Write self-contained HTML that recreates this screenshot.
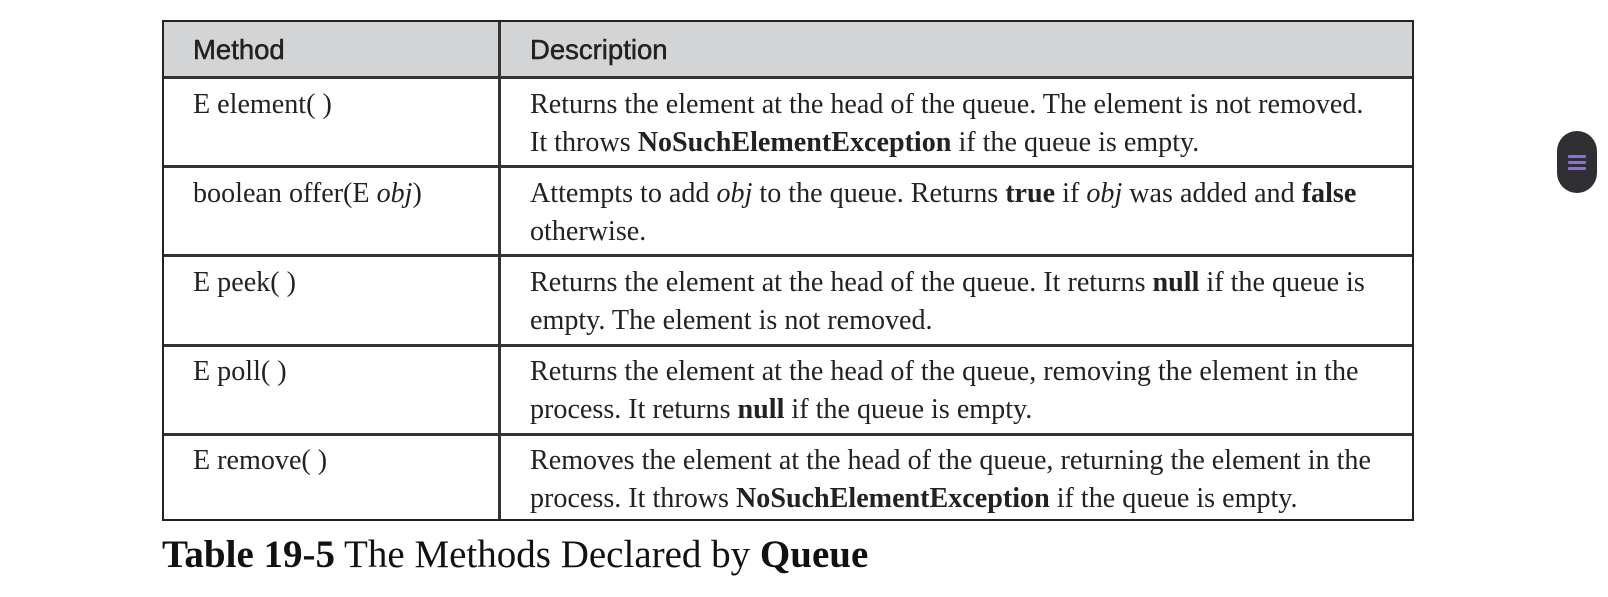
<!DOCTYPE html>
<html><head><meta charset="utf-8"><style>
html,body{margin:0;padding:0;width:1608px;height:597px;background:#fff;overflow:hidden;position:relative}
.t{position:absolute;left:162px;top:20px;width:1252px;height:501px;border:2px solid #222;box-sizing:border-box}
.hd{position:absolute;left:0;top:0;width:100%;height:55px;background:#d3d4d6}
.h{position:absolute;left:0;width:100%;height:3px;background:#333}
.v{position:absolute;left:334px;top:0;width:3px;height:100%;background:#333}
.c{position:absolute;font-family:"Liberation Serif",serif;font-size:28.1px;color:#222;line-height:38px;white-space:nowrap}
.hs{position:absolute;font-family:"Liberation Sans",sans-serif;font-size:27.5px;color:#222;top:12px;-webkit-text-stroke:0.5px #222}
.cap{position:absolute;left:162px;top:532px;font-family:"Liberation Serif",serif;font-size:39px;color:#111;white-space:nowrap}
.btn{position:absolute;left:1557px;top:131px;width:40px;height:62px;border-radius:20px;background:#2f2f33}
.btn i{position:absolute;left:11px;width:18px;height:3px;background:#8a6fe0;border-radius:1px}
</style></head><body>
<div class="t">
<div class="hd"></div>
<div class="h" style="top:54px"></div>
<div class="h" style="top:143px"></div>
<div class="h" style="top:232px"></div>
<div class="h" style="top:322px"></div>
<div class="h" style="top:411px"></div>
<div class="v"></div>
<div class="hs" style="left:29px">Method</div>
<div class="hs" style="left:366px">Description</div>
<div class="c" style="left:29px;top:64px">E element( )</div>
<div class="c" style="left:366px;top:64px">Returns the element at the head of the queue. The element is not removed.<br>It throws <b>NoSuchElementException</b> if the queue is empty.</div>
<div class="c" style="left:29px;top:153px">boolean offer(E <i>obj</i>)</div>
<div class="c" style="left:366px;top:153px">Attempts to add <i>obj</i> to the queue. Returns <b>true</b> if <i>obj</i> was added and <b>false</b><br>otherwise.</div>
<div class="c" style="left:29px;top:242px">E peek( )</div>
<div class="c" style="left:366px;top:242px">Returns the element at the head of the queue. It returns <b>null</b> if the queue is<br>empty. The element is not removed.</div>
<div class="c" style="left:29px;top:331px">E poll( )</div>
<div class="c" style="left:366px;top:331px">Returns the element at the head of the queue, removing the element in the<br>process. It returns <b>null</b> if the queue is empty.</div>
<div class="c" style="left:29px;top:420px">E remove( )</div>
<div class="c" style="left:366px;top:420px">Removes the element at the head of the queue, returning the element in the<br>process. It throws <b>NoSuchElementException</b> if the queue is empty.</div>
</div>
<div class="cap"><b>Table 19-5</b> The Methods Declared by <b>Queue</b></div>
<div class="btn"><i style="top:24px"></i><i style="top:30px"></i><i style="top:36px"></i></div>
</body></html>
